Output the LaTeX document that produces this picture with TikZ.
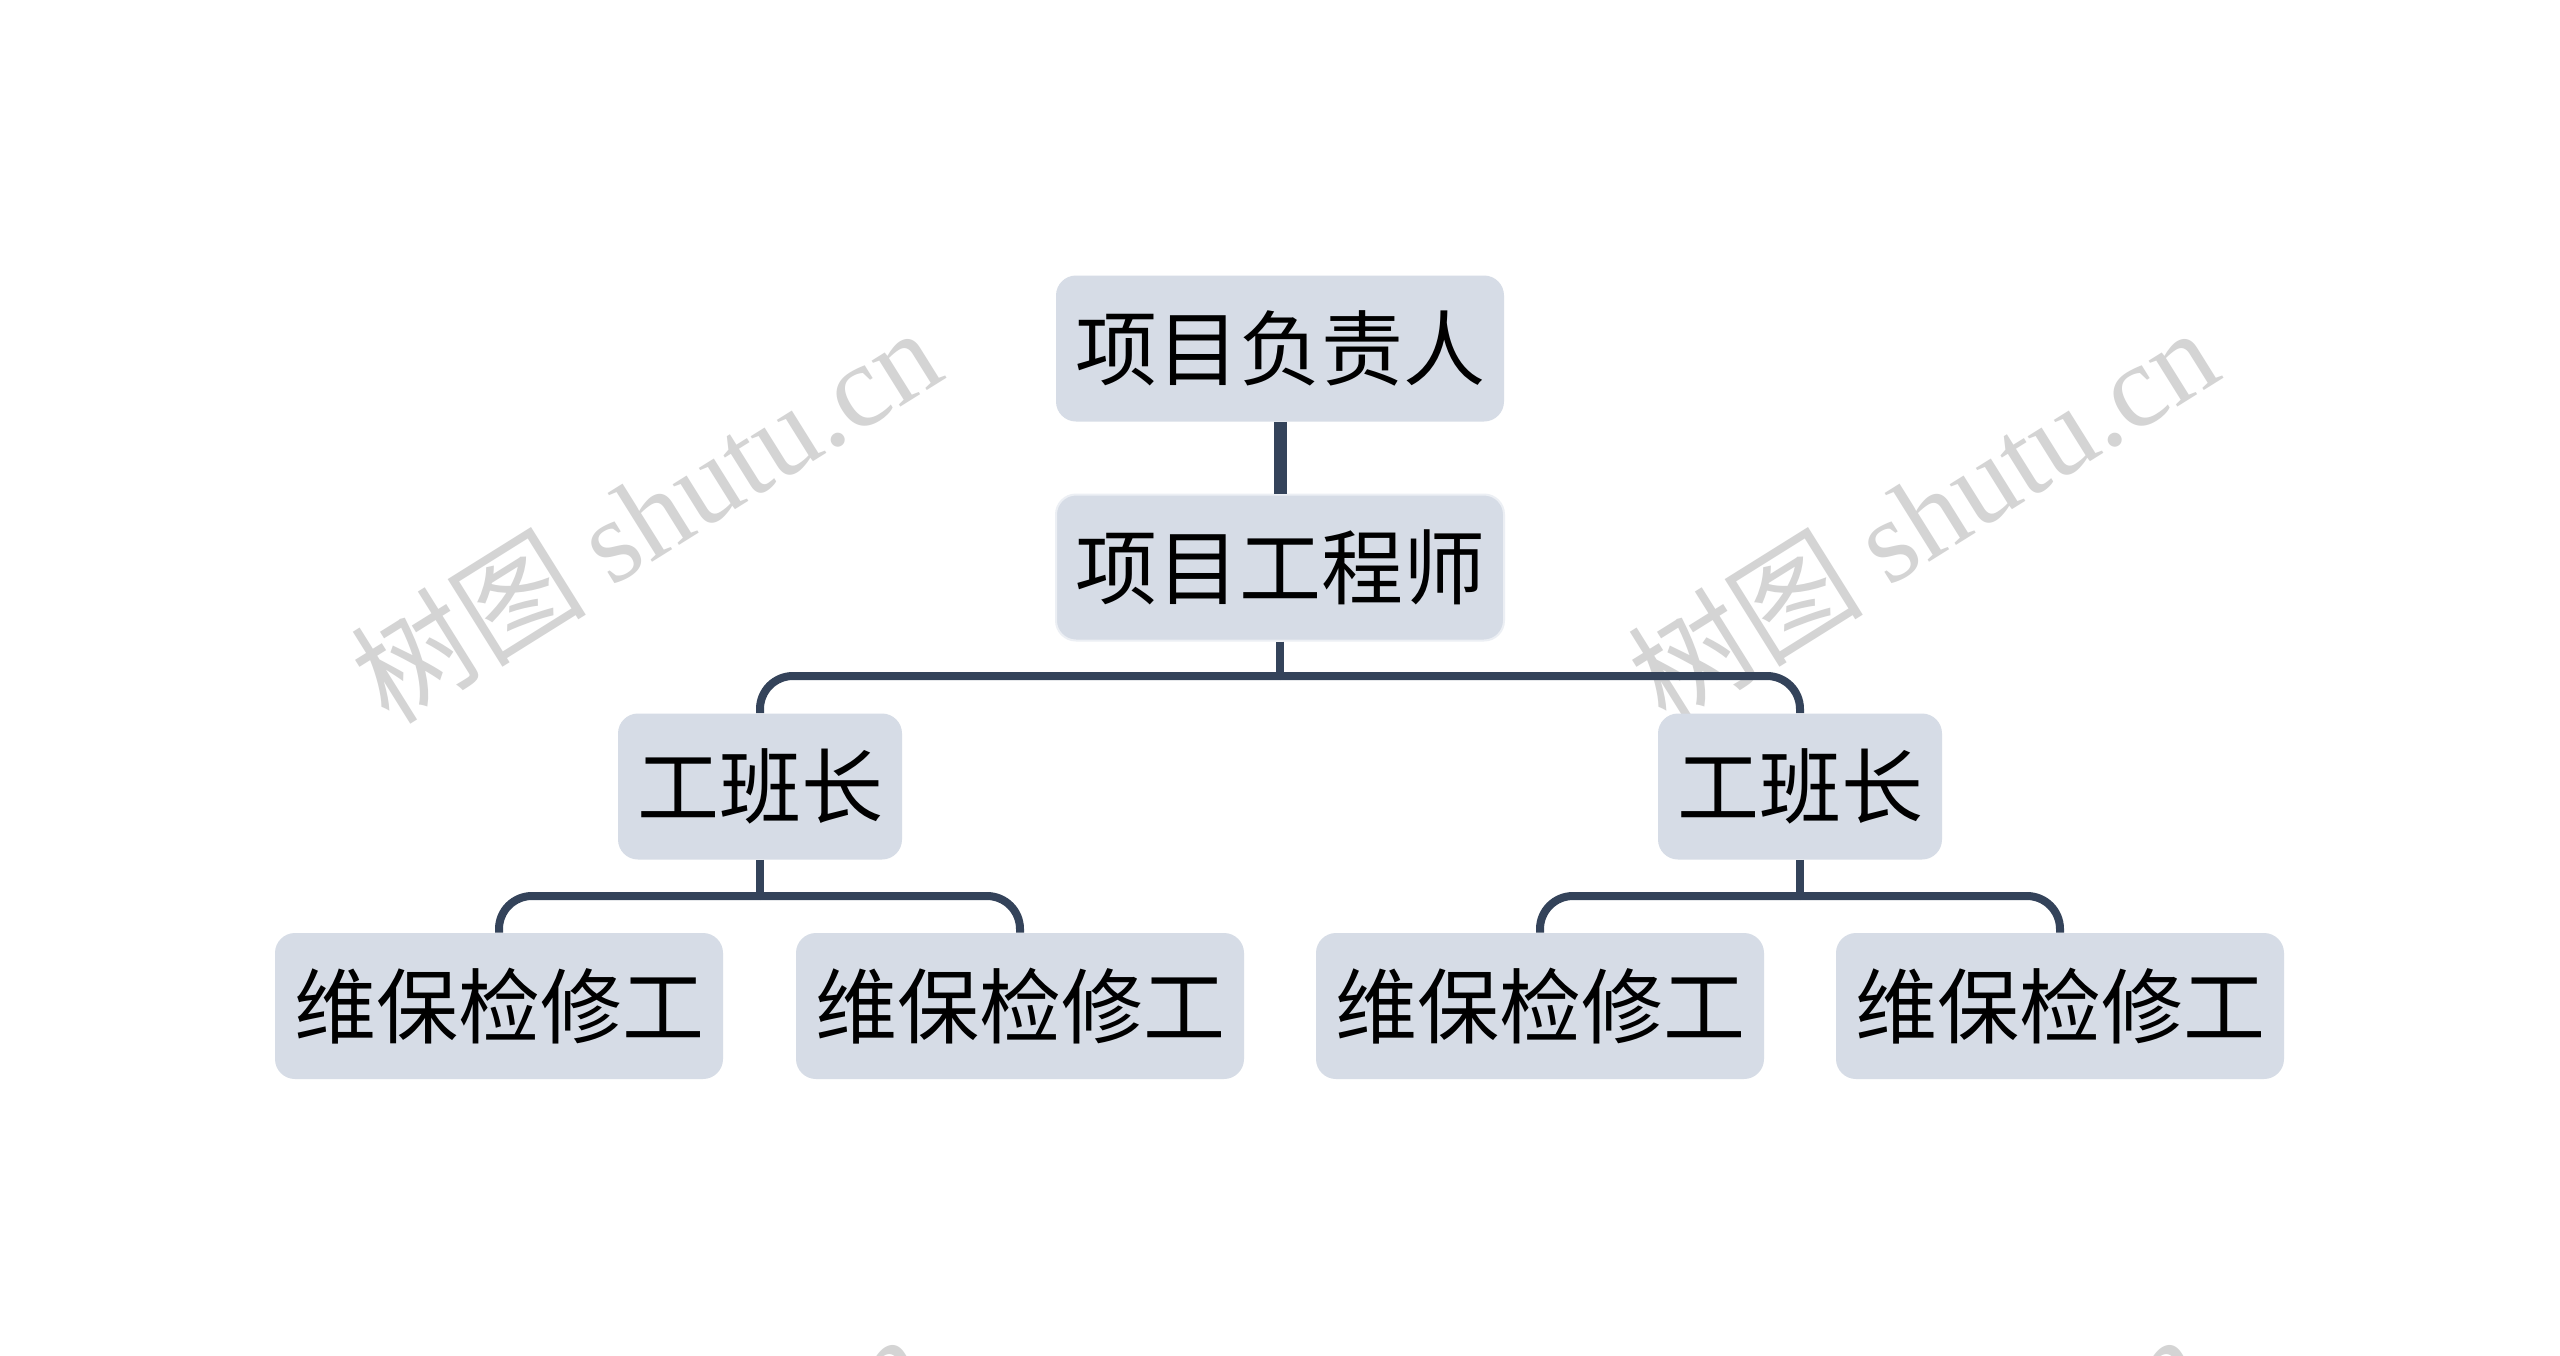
\documentclass[tikz,border=0pt]{standalone}
\usepackage{fontspec}
\setmainfont{Noto Sans CJK SC}
\newfontfamily\markfont{Liberation Serif}
\definecolor{linecol}{HTML}{34435A}
\definecolor{boxfill}{HTML}{D6DCE6}
\definecolor{boxedge}{HTML}{ECEFF4}
\definecolor{markgray}{HTML}{D4D4D4}

\begin{document}
\begin{tikzpicture}[
  x=0.5pt, y=-0.5pt,
  box/.style={rounded corners=10pt, fill=boxfill, minimum height=73pt, inner xsep=9.5pt, inner ysep=0pt, font=\fontsize{41pt}{49pt}\selectfont, text=black},
  link/.style={draw=linecol, line width=4pt},
  branch/.style={link, rounded corners=16.5pt},
  wmark/.style={text=markgray, rotate=32, font=\fontsize{59pt}{66pt}\selectfont}
]
\clip (0,0) rectangle (2560,1355);
\fill[white] (0,0) rectangle (2560,1355);

% Watermarks
\foreach \mx/\my in {645/514, 1922/514, 630/1520, 1907/1520}
  \node[wmark] at (\mx,\my) {树图 {\markfont shutu.cn}};

% Nodes
\node[box] (boss) at (1280,348.5) {项目负责人};
\node[box, draw=boxedge, line width=1pt] (eng) at (1280,567.5) {项目工程师};
\node[box] (leadL) at (760,786.5) {工班长};
\node[box] (leadR) at (1800,786.5) {工班长};
\node[box] (w1) at (499,1006) {维保检修工};
\node[box] (w2) at (1020,1006) {维保检修工};
\node[box] (w3) at (1540,1006) {维保检修工};
\node[box] (w4) at (2060,1006) {维保检修工};

% Junctions
\coordinate (j0) at (1280,676);
\coordinate (jL) at (760,896);
\coordinate (jR) at (1800,896);

% Edges
\draw[link, line width=6.5pt] (boss) -- (eng);
\draw[link] (eng.south) -- (j0);
\draw[branch] (j0) -| (leadL.north);
\draw[branch] (j0) -| (leadR.north);
\draw[link] (leadL.south) -- (jL);
\draw[branch] (jL) -| (w1.north);
\draw[branch] (jL) -| (w2.north);
\draw[link] (leadR.south) -- (jR);
\draw[branch] (jR) -| (w3.north);
\draw[branch] (jR) -| (w4.north);

\end{tikzpicture}
\end{document}
